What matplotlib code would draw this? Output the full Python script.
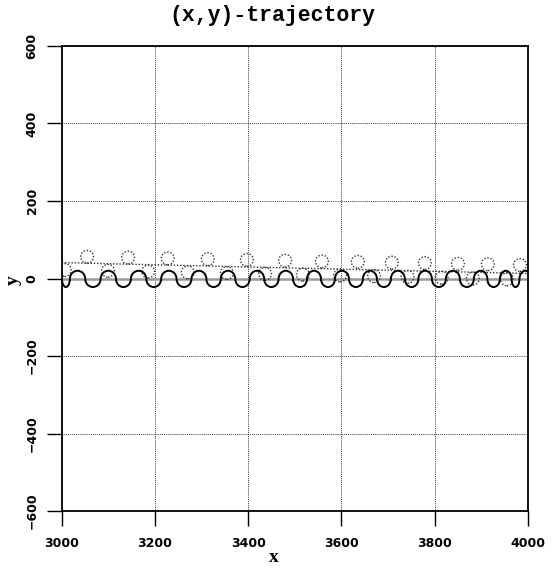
import matplotlib
matplotlib.use("Agg")
import matplotlib.pyplot as plt
from matplotlib.patches import Arc, Ellipse

# x where the solid path crosses its centre line (arcs alternate down / up)
wave_nodes = [3000, 3017, 3050, 3083, 3116, 3148, 3181, 3213, 3246, 3278,
              3310, 3341, 3372, 3403, 3434, 3465, 3496, 3526, 3556, 3586,
              3616, 3646, 3676, 3706, 3736, 3765, 3794, 3824, 3854, 3884,
              3913, 3940, 3965, 3982, 4008]
wave_centre = -1
wave_amp = 21

# dotted loops above and below the drift line
upper_loop_x = [3054, 3142, 3227, 3313, 3397, 3479, 3558, 3635, 3708, 3779, 3850, 3914, 3983]
upper_loop_y = [56, 54, 52, 50, 48, 46, 44, 43, 41, 40, 38, 37, 35]
lower_loop_x = [3006, 3099, 3185, 3270, 3354, 3436, 3517, 3597, 3670, 3742, 3815, 3882, 3955]
lower_loop_y = [22, 20, 18, 16, 14, 12, 10, 8, 6, 4, 2, 0, -2]
loop_w = 27.5
loop_h = 33

drift_x = [3000, 4000]
drift_y = [41, 13]

x_ticks = [3000, 3200, 3400, 3600, 3800, 4000]
y_ticks = [-600, -400, -200, 0, 200, 400, 600]

fig = plt.figure(figsize=(5.58, 5.71), dpi=100)
ax = fig.add_axes([0.111, 0.105, 0.835, 0.8145])

dots = (0, (1, 1.3))
ax.grid(True, color='k', linestyle=dots, linewidth=0.6)
ax.axhline(0, color='0.6', linewidth=1.8, zorder=2)

ax.plot(drift_x, drift_y, color='0.2', linestyle=dots, linewidth=1.0, zorder=3)
for xs, ys in ((upper_loop_x, upper_loop_y), (lower_loop_x, lower_loop_y)):
    for cx, cy in zip(xs, ys):
        ax.add_patch(Ellipse((cx, cy), loop_w, loop_h, fill=False, edgecolor='0.2',
                             linestyle=dots, linewidth=1.0, zorder=3))

for i in range(len(wave_nodes) - 1):
    x0, x1 = wave_nodes[i], wave_nodes[i + 1]
    if i % 2:
        t1, t2 = 0, 180
    else:
        t1, t2 = 180, 360
    ax.add_patch(Arc(((x0 + x1) / 2, wave_centre), x1 - x0, 2 * wave_amp,
                     theta1=t1, theta2=t2, color='k', linewidth=1.4, zorder=4))

ax.set_xlim(3000, 4000)
ax.set_ylim(-600, 600)
ax.set_xticks(x_ticks)
ax.set_yticks(y_ticks)
ax.set_xticklabels([str(v) for v in x_ticks], fontfamily='DejaVu Sans',
                   fontweight='bold', fontsize=9)
ax.set_yticklabels([str(v).replace('-', '\u2212') for v in y_ticks], fontfamily='DejaVu Sans',
                   fontweight='bold', fontsize=9, rotation=90, va='center')
ax.tick_params(axis='x', direction='out', length=10.8, width=1.0, pad=8)
ax.tick_params(axis='y', direction='out', length=10.8, width=1.0, pad=6)
for s in ax.spines.values():
    s.set_linewidth(1.3)

fig.text(0.488, 0.972, '(x,y)-trajectory', ha='center', va='center',
         fontfamily='Liberation Mono', fontweight='bold', fontsize=15.5)
fig.text(0.49, 0.023, 'x', ha='center', va='center',
         fontfamily='Liberation Serif', fontweight='bold', fontsize=14)
fig.text(0.024, 0.51, 'y', ha='center', va='center', rotation=90,
         fontfamily='Liberation Serif', fontweight='bold', fontsize=14)

fig.savefig('out.png', dpi=100)
